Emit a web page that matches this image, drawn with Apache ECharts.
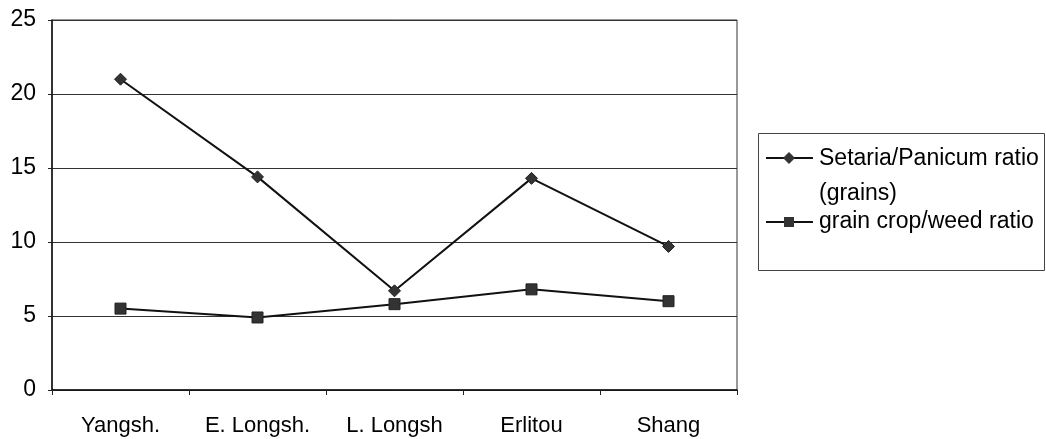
<!DOCTYPE html>
<html><head><meta charset="utf-8">
<script src="https://cdn.jsdelivr.net/npm/echarts@6/dist/echarts.min.js"></script>
<style>html,body{margin:0;padding:0;background:#fff}#c{width:1046px;height:439px}</style>
</head><body><div id="c"></div>
<script>
const categories = ['Yangsh.', 'E. Longsh.', 'L. Longsh', 'Erlitou', 'Shang'];
const setariaPanicum = [21.0, 14.4, 6.7, 14.3, 9.7];
const cropWeed = [5.5, 4.9, 5.8, 6.8, 6.0];
const seriesNames = ['Setaria/Panicum ratio\n(grains)', 'grain crop/weed ratio'];
const yTicks = [0, 5, 10, 15, 20, 25];

const FONT = 'Liberation Sans, Arial, sans-serif';
const chart = echarts.init(document.getElementById('c'), null, {renderer: 'canvas'});
chart.setOption({
  animation: false,
  backgroundColor: '#fff',
  grid: {left: 52, right: 309, top: 20, bottom: 49, show: true, borderColor: '#333', borderWidth: 1},
  xAxis: {
    type: 'category', data: categories, boundaryGap: true,
    axisLine: {lineStyle: {color: '#111', width: 1.5}},
    axisTick: {show: true, inside: false, length: 5, alignWithLabel: false, interval: 0, lineStyle: {color: '#222'}},
    axisLabel: {color: '#000', fontFamily: FONT, fontSize: 22, margin: 25, interval: 0, hideOverlap: false}
  },
  yAxis: {
    type: 'value', min: yTicks[0], max: yTicks[yTicks.length-1], interval: 5,
    axisLine: {show: true, lineStyle: {color: '#111', width: 1.5}},
    axisTick: {show: true, length: 4, lineStyle: {color: '#222'}},
    axisLabel: {color: '#000', fontFamily: FONT, fontSize: 23, margin: 16},
    splitLine: {show: true, lineStyle: {color: '#333', width: 1.2}}
  },
  series: [
    {name: seriesNames[0], type: 'line', data: setariaPanicum, symbol: 'diamond', symbolSize: 12,
     lineStyle: {color: '#111', width: 2}, itemStyle: {color: '#333', borderColor: '#222', borderWidth: 1}},
    {name: seriesNames[1], type: 'line', data: cropWeed, symbol: 'rect', symbolSize: 11,
     lineStyle: {color: '#111', width: 2}, itemStyle: {color: '#333', borderColor: '#222', borderWidth: 1}}
  ],
  graphic: [
    {type: 'rect', shape: {x: 758.5, y: 133.5, width: 286, height: 137}, style: {fill: '#fff', stroke: '#444', lineWidth: 1}},
    {type: 'line', shape: {x1: 766, y1: 158, x2: 813, y2: 158}, style: {stroke: '#111', lineWidth: 2}},
    {type: 'polygon', shape: {points: [[789, 152], [795, 158], [789, 164], [783, 158]]}, style: {fill: '#333'}},
    {type: 'text', x: 819, y: 141, style: {text: seriesNames[0], font: '23px ' + FONT, fill: '#000', verticalAlign: 'top', lineHeight: 35}},
    {type: 'line', shape: {x1: 766, y1: 222, x2: 813, y2: 222}, style: {stroke: '#111', lineWidth: 2}},
    {type: 'rect', shape: {x: 784, y: 217, width: 10, height: 10}, style: {fill: '#333'}},
    {type: 'text', x: 819, y: 205, style: {text: seriesNames[1], font: '23px ' + FONT, fill: '#000', verticalAlign: 'top', lineHeight: 34}}
  ]
});
</script></body></html>
